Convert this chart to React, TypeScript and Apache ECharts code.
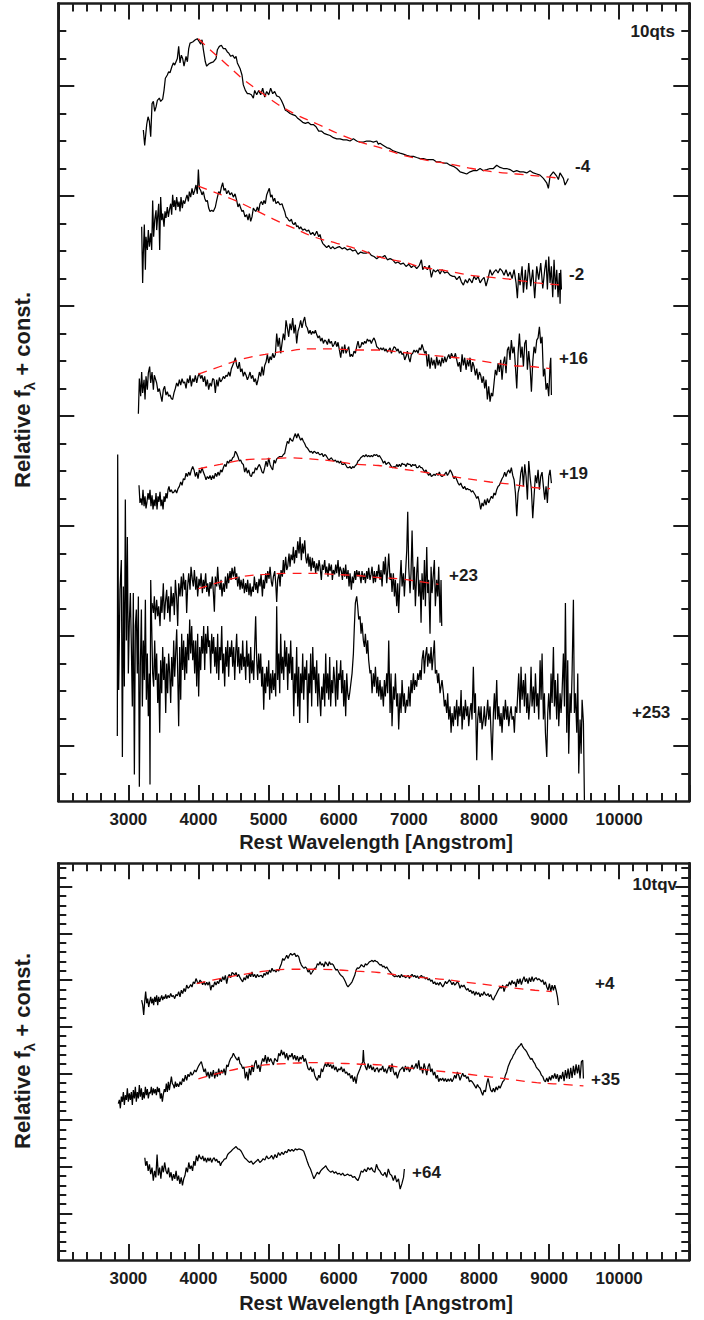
import React, { useEffect, useRef } from "react";
import * as echarts from "echarts";

type Pt = [number, number];

// ---------- SN 2010qts (upper panel), relative flux + offset ----------
const specM4: Pt[] = [
  [3213, 61.0], [3232, 59.6], [3261, 61.5], [3280, 62.2], [3299, 61.8], [3318, 60.4], [3337, 63.4], [3356, 63.6],
  [3375, 62.7], [3394, 63.1], [3413, 63.7], [3441, 63.9], [3460, 63.6], [3489, 63.8], [3508, 64.6], [3527, 65.7],
  [3555, 66.0], [3574, 66.3], [3593, 66.2], [3622, 66.8], [3641, 67.1], [3660, 66.9], [3679, 67.2], [3698, 67.5],
  [3717, 68.6], [3736, 67.1], [3755, 67.8], [3774, 67.5], [3793, 66.8], [3822, 67.7], [3841, 67.2], [3860, 68.4],
  [3879, 68.9], [3917, 69.0], [3955, 69.2], [3983, 69.3], [4012, 69.0], [4031, 68.8], [4050, 69.2], [4069, 68.3],
  [4097, 67.2], [4116, 66.8], [4145, 67.0], [4173, 67.1], [4211, 67.2], [4250, 67.5], [4269, 68.3], [4297, 68.6],
  [4326, 68.7], [4354, 68.4], [4383, 68.4], [4411, 68.1], [4430, 68.0], [4459, 67.7], [4487, 67.8], [4516, 67.5],
  [4535, 67.7], [4554, 67.1], [4592, 66.6], [4620, 66.0], [4639, 65.1], [4668, 64.6], [4697, 64.3], [4725, 64.3],
  [4754, 64.2], [4782, 63.9], [4801, 64.6], [4830, 64.2], [4858, 64.6], [4887, 64.2], [4915, 64.8], [4944, 64.0],
  [4972, 64.5], [5001, 64.2], [5029, 64.8], [5058, 64.3], [5086, 64.5], [5115, 64.1], [5153, 64.0], [5181, 63.7],
  [5210, 63.3], [5239, 62.8], [5267, 62.7], [5305, 62.5], [5343, 62.4], [5381, 62.3], [5410, 62.1], [5448, 61.9],
  [5486, 61.7], [5524, 61.6], [5562, 61.7], [5600, 61.5], [5638, 61.5], [5676, 61.3], [5714, 60.9], [5752, 60.9],
  [5790, 60.7], [5828, 60.6], [5876, 60.5], [5923, 60.3], [5971, 60.2], [6018, 60.2], [6066, 60.1], [6114, 60.1],
  [6161, 60.0], [6209, 60.2], [6256, 60.0], [6304, 59.9], [6351, 59.9], [6399, 60.0], [6446, 60.0], [6494, 59.9],
  [6542, 60.0], [6565, 59.7], [6589, 59.8], [6637, 59.6], [6684, 59.4], [6732, 59.3], [6779, 59.1], [6827, 59.0],
  [6874, 58.9], [6922, 58.8], [6969, 58.7], [7017, 58.6], [7065, 58.6], [7112, 58.5], [7160, 58.4], [7207, 58.4],
  [7255, 58.3], [7302, 58.3], [7350, 58.3], [7397, 58.1], [7445, 58.1], [7493, 58.0], [7540, 58.0], [7588, 57.8],
  [7635, 57.7], [7683, 57.5], [7730, 57.2], [7778, 57.1], [7825, 57.0], [7873, 57.2], [7920, 57.3], [7968, 57.3],
  [8016, 57.5], [8063, 57.3], [8111, 57.4], [8158, 57.5], [8206, 57.5], [8253, 57.8], [8301, 57.6], [8348, 57.5],
  [8396, 57.5], [8443, 57.4], [8491, 57.2], [8539, 57.3], [8586, 57.2], [8634, 57.2], [8681, 57.1], [8729, 57.3],
  [8776, 57.1], [8824, 57.0], [8871, 56.9], [8919, 56.6], [8966, 56.2], [8990, 55.7], [9014, 56.8], [9061, 57.2],
  [9109, 56.8], [9133, 56.5], [9156, 57.1], [9204, 56.6], [9228, 56.0], [9252, 56.3], [9275, 56.6],
];
const fitM4: Pt[] = [
  [3998, 69.3], [4164, 68.3], [4378, 67.1], [4639, 65.6], [4877, 64.5], [5139, 63.3], [5424, 62.3], [5710, 61.5],
  [6018, 60.6], [6304, 59.9], [6637, 59.3], [6922, 58.7], [7302, 58.2], [7588, 57.9], [7897, 57.5], [8206, 57.2],
  [8539, 57.0], [8871, 56.8], [9181, 56.6],
];

const specM2: Pt[] = [
  [3189, 52.2], [3203, 47.1], [3213, 49.8], [3227, 52.4], [3242, 48.3], [3251, 51.3], [3270, 50.1], [3284, 51.9],
  [3299, 50.4], [3318, 51.6], [3332, 50.1], [3346, 54.6], [3360, 51.3], [3375, 52.8], [3394, 53.7], [3403, 51.9],
  [3417, 53.1], [3432, 54.3], [3446, 50.1], [3460, 54.9], [3475, 52.8], [3489, 53.4], [3508, 52.2], [3522, 53.6],
  [3536, 53.0], [3555, 54.0], [3570, 53.1], [3584, 53.7], [3603, 54.3], [3617, 53.3], [3631, 55.1], [3646, 54.0],
  [3660, 54.6], [3674, 53.7], [3688, 54.9], [3707, 54.0], [3722, 54.5], [3736, 53.6], [3750, 54.9], [3769, 53.9],
  [3784, 54.6], [3803, 54.3], [3822, 54.8], [3836, 55.1], [3855, 54.5], [3869, 55.4], [3888, 54.9], [3907, 55.7],
  [3926, 55.1], [3945, 55.5], [3964, 56.0], [3983, 55.2], [3998, 57.4], [4012, 55.7], [4031, 55.5], [4050, 55.1],
  [4069, 55.4], [4088, 54.8], [4107, 54.5], [4126, 54.6], [4145, 53.9], [4164, 53.6], [4188, 53.7], [4211, 53.6],
  [4240, 54.0], [4259, 54.6], [4288, 55.4], [4307, 55.2], [4326, 55.8], [4345, 56.2], [4364, 55.5], [4383, 55.7],
  [4402, 55.2], [4426, 55.5], [4449, 55.1], [4473, 55.3], [4497, 54.9], [4521, 55.2], [4544, 54.6], [4563, 54.0],
  [4582, 54.3], [4601, 53.9], [4620, 53.6], [4639, 53.7], [4663, 53.1], [4687, 53.3], [4706, 52.8], [4725, 53.4],
  [4744, 52.7], [4763, 53.1], [4782, 53.9], [4801, 53.7], [4820, 53.6], [4839, 54.0], [4858, 53.6], [4877, 54.3],
  [4896, 54.5], [4915, 54.2], [4934, 54.6], [4953, 54.3], [4972, 55.1], [4991, 55.4], [5010, 55.7], [5029, 54.9],
  [5048, 55.1], [5067, 54.5], [5086, 54.8], [5105, 54.3], [5134, 54.5], [5163, 54.2], [5191, 54.3], [5210, 53.9],
  [5229, 53.6], [5248, 53.1], [5267, 53.0], [5286, 52.8], [5305, 52.7], [5324, 52.9], [5343, 52.5], [5362, 52.4],
  [5381, 52.6], [5400, 52.2], [5419, 52.3], [5438, 52.0], [5457, 52.2], [5486, 51.9], [5514, 52.0], [5543, 51.8],
  [5571, 51.9], [5600, 51.5], [5629, 51.7], [5657, 51.4], [5686, 51.8], [5714, 51.3], [5733, 51.5], [5752, 51.0],
  [5771, 50.7], [5800, 50.5], [5828, 50.3], [5857, 50.5], [5885, 50.2], [5914, 50.4], [5942, 50.2], [5971, 50.3],
  [6009, 50.4], [6047, 50.2], [6085, 50.3], [6123, 50.1], [6161, 50.2], [6199, 50.0], [6237, 50.1], [6275, 49.7],
  [6313, 49.9], [6351, 49.8], [6389, 49.8], [6427, 49.9], [6465, 49.6], [6503, 49.5], [6542, 49.3], [6580, 49.5],
  [6618, 49.4], [6656, 49.6], [6694, 49.2], [6732, 49.3], [6770, 49.2], [6808, 48.9], [6846, 49.0], [6884, 48.8],
  [6922, 48.9], [6960, 48.6], [6998, 48.8], [7036, 48.5], [7074, 48.7], [7112, 48.4], [7150, 48.7], [7179, 49.2],
  [7198, 48.3], [7226, 48.6], [7264, 48.3], [7293, 48.7], [7321, 47.6], [7350, 48.3], [7378, 48.1], [7416, 48.3],
  [7445, 47.9], [7473, 48.3], [7511, 48.0], [7549, 48.1], [7588, 47.8], [7626, 47.7], [7654, 47.7], [7683, 47.4],
  [7721, 47.7], [7749, 47.2], [7778, 46.9], [7806, 47.4], [7835, 47.1], [7863, 47.5], [7901, 47.1], [7930, 47.7],
  [7958, 47.4], [7987, 47.7], [8016, 47.1], [8044, 47.4], [8073, 47.6], [8101, 46.8], [8130, 47.5], [8158, 48.3],
  [8187, 47.8], [8215, 48.1], [8244, 48.3], [8272, 48.0], [8301, 48.4], [8329, 48.2], [8358, 47.8], [8386, 48.3],
  [8415, 47.7], [8443, 48.1], [8472, 47.5], [8501, 48.3], [8529, 47.1], [8548, 45.7], [8567, 48.0], [8586, 46.9],
  [8615, 48.6], [8634, 46.2], [8662, 48.3], [8681, 46.5], [8710, 48.9], [8738, 46.8], [8767, 48.3], [8795, 45.7],
  [8824, 48.6], [8852, 47.4], [8881, 48.9], [8910, 46.6], [8938, 48.3], [8957, 49.2], [8976, 46.5], [8995, 49.5],
  [9014, 47.1], [9033, 48.6], [9052, 45.8], [9071, 49.2], [9090, 46.5], [9109, 48.3], [9128, 45.8], [9147, 48.0],
  [9157, 45.2], [9166, 48.3], [9176, 46.5],
];
const fitM2: Pt[] = [
  [3998, 55.9], [4164, 55.5], [4521, 54.6], [4782, 53.8], [5067, 52.9], [5352, 52.1], [5638, 51.3], [5971, 50.7],
  [6304, 50.1], [6613, 49.4], [6922, 49.0], [7207, 48.5], [7540, 48.2], [7873, 47.8], [8182, 47.6], [8491, 47.4],
  [8824, 47.1], [9181, 46.9],
];

const specP16: Pt[] = [
  [3142, 35.2], [3156, 38.4], [3175, 36.8], [3189, 39.0], [3203, 37.1], [3223, 38.3], [3237, 36.5], [3251, 38.6],
  [3270, 37.4], [3284, 38.9], [3303, 39.5], [3318, 38.0], [3337, 39.0], [3356, 37.4], [3370, 38.7], [3389, 38.3],
  [3403, 38.0], [3422, 37.2], [3441, 37.5], [3460, 36.9], [3479, 36.3], [3498, 37.4], [3517, 37.7], [3536, 36.9],
  [3555, 37.2], [3574, 36.8], [3593, 36.9], [3612, 36.6], [3631, 36.5], [3650, 37.1], [3669, 37.5], [3688, 38.0],
  [3708, 37.7], [3727, 38.3], [3746, 37.8], [3765, 38.4], [3784, 38.0], [3803, 38.1], [3822, 37.5], [3841, 38.4],
  [3860, 38.0], [3879, 38.7], [3898, 37.7], [3917, 38.4], [3936, 38.1], [3955, 38.7], [3974, 38.0], [3993, 38.6],
  [4012, 38.9], [4031, 38.4], [4050, 38.7], [4069, 38.1], [4088, 38.6], [4107, 37.7], [4126, 38.3], [4145, 37.4],
  [4164, 38.0], [4183, 37.7], [4202, 38.4], [4221, 38.3], [4240, 37.1], [4259, 38.3], [4278, 37.7], [4297, 38.5],
  [4316, 38.1], [4335, 38.3], [4354, 38.6], [4373, 38.4], [4392, 38.7], [4411, 38.6], [4430, 39.0], [4449, 38.6],
  [4468, 39.3], [4487, 39.6], [4506, 39.9], [4525, 40.3], [4544, 39.6], [4563, 39.3], [4582, 39.9], [4601, 39.0],
  [4620, 39.3], [4639, 38.6], [4658, 39.0], [4678, 38.7], [4697, 38.3], [4716, 38.6], [4735, 39.0], [4754, 38.4],
  [4773, 38.7], [4792, 38.1], [4811, 38.4], [4830, 37.8], [4849, 38.3], [4868, 39.0], [4887, 38.6], [4906, 39.5],
  [4925, 38.7], [4944, 39.6], [4963, 39.9], [4982, 40.6], [5001, 39.8], [5020, 40.4], [5039, 40.1], [5058, 40.7],
  [5077, 40.3], [5096, 40.6], [5115, 42.5], [5134, 41.3], [5153, 42.1], [5172, 40.7], [5191, 41.6], [5210, 42.5],
  [5229, 41.9], [5248, 43.7], [5267, 43.0], [5286, 42.2], [5305, 43.4], [5324, 42.8], [5343, 43.9], [5362, 42.5],
  [5381, 43.3], [5400, 41.6], [5419, 42.7], [5438, 43.1], [5457, 43.7], [5476, 43.0], [5495, 43.6], [5514, 44.0],
  [5533, 43.2], [5552, 43.0], [5572, 42.5], [5591, 42.8], [5610, 42.4], [5629, 42.7], [5648, 42.5], [5667, 42.8],
  [5686, 42.4], [5705, 42.1], [5724, 42.3], [5743, 41.8], [5762, 42.1], [5781, 41.6], [5800, 41.9], [5819, 41.8],
  [5838, 41.5], [5857, 42.0], [5876, 41.6], [5895, 41.8], [5914, 41.3], [5933, 41.5], [5952, 41.8], [5971, 41.3],
  [5990, 41.7], [6009, 41.0], [6028, 40.3], [6047, 41.3], [6066, 40.7], [6085, 41.5], [6104, 40.7], [6123, 41.0],
  [6142, 41.3], [6161, 40.4], [6180, 40.6], [6199, 40.4], [6218, 40.9], [6237, 40.7], [6256, 41.3], [6275, 41.8],
  [6294, 41.2], [6313, 41.3], [6332, 41.7], [6351, 41.5], [6370, 41.8], [6389, 41.6], [6408, 42.0], [6427, 41.8],
  [6446, 41.9], [6465, 41.6], [6484, 41.9], [6503, 42.1], [6522, 41.8], [6542, 41.3], [6561, 41.2], [6580, 41.0],
  [6599, 41.2], [6618, 41.0], [6637, 41.2], [6656, 40.9], [6675, 41.1], [6694, 40.8], [6713, 41.0], [6732, 41.2],
  [6751, 40.7], [6770, 41.0], [6789, 41.3], [6808, 41.2], [6827, 40.9], [6846, 41.1], [6865, 40.7], [6884, 40.9],
  [6903, 40.6], [6922, 40.7], [6941, 40.1], [6960, 40.4], [6979, 40.9], [6998, 40.3], [7017, 39.9], [7036, 40.6],
  [7055, 40.7], [7074, 41.0], [7093, 40.8], [7112, 41.0], [7131, 40.7], [7150, 41.2], [7169, 41.0], [7188, 41.5],
  [7207, 41.1], [7226, 40.7], [7245, 40.9], [7264, 39.5], [7283, 40.6], [7302, 39.3], [7321, 40.3], [7340, 39.6],
  [7359, 40.1], [7378, 39.3], [7397, 40.4], [7416, 39.6], [7435, 40.1], [7454, 39.5], [7473, 40.3], [7493, 39.8],
  [7512, 40.4], [7531, 39.9], [7550, 40.3], [7569, 40.6], [7588, 40.2], [7607, 40.7], [7626, 40.4], [7645, 40.3],
  [7664, 40.7], [7683, 40.1], [7702, 39.5], [7721, 39.9], [7740, 39.0], [7759, 40.6], [7778, 39.6], [7797, 40.3],
  [7816, 39.2], [7835, 40.1], [7854, 39.5], [7873, 40.3], [7892, 39.0], [7911, 39.9], [7930, 39.5], [7949, 38.7],
  [7968, 39.3], [7987, 38.3], [8006, 39.0], [8025, 38.7], [8044, 38.0], [8063, 38.6], [8082, 37.5], [8101, 38.3],
  [8120, 36.5], [8139, 37.7], [8158, 36.3], [8177, 37.1], [8196, 36.8], [8215, 38.0], [8234, 39.2], [8253, 38.7],
  [8272, 39.8], [8291, 39.0], [8310, 40.1], [8329, 38.3], [8348, 39.8], [8367, 40.4], [8386, 38.9], [8405, 41.0],
  [8424, 41.3], [8443, 40.1], [8462, 41.9], [8482, 40.7], [8501, 41.3], [8520, 39.5], [8539, 37.5], [8558, 40.7],
  [8577, 42.5], [8596, 40.3], [8615, 41.3], [8634, 39.5], [8653, 41.6], [8672, 41.9], [8691, 39.2], [8710, 40.9],
  [8729, 39.5], [8748, 37.2], [8767, 39.9], [8786, 41.3], [8805, 40.7], [8824, 41.9], [8843, 42.1], [8862, 43.1],
  [8881, 41.6], [8900, 42.2], [8919, 38.6], [8938, 39.3], [8957, 37.4], [8976, 38.0], [8995, 36.8], [9014, 39.6],
  [9024, 40.3], [9033, 36.9],
];
const fitP16: Pt[] = [
  [3998, 38.8], [4307, 39.5], [4639, 40.2], [4949, 40.6], [5258, 40.9], [5591, 41.1], [5923, 41.1], [6233, 41.0],
  [6542, 41.0], [6874, 40.8], [7184, 40.6], [7516, 40.4], [7825, 40.2], [8135, 39.9], [8443, 39.6], [8729, 39.5],
  [9014, 39.3],
];

const specP19: Pt[] = [
  [3151, 28.7], [3165, 27.1], [3180, 27.5], [3194, 26.9], [3208, 28.3], [3223, 26.8], [3237, 27.7], [3251, 26.6],
  [3265, 27.2], [3280, 28.0], [3294, 27.4], [3308, 28.3], [3322, 26.8], [3337, 27.8], [3351, 26.5], [3365, 27.4],
  [3379, 26.8], [3394, 28.0], [3408, 26.5], [3422, 27.7], [3436, 27.2], [3451, 28.1], [3465, 26.8], [3479, 27.4],
  [3494, 26.5], [3508, 27.7], [3522, 27.2], [3536, 28.0], [3551, 27.5], [3565, 28.3], [3579, 28.6], [3593, 28.1],
  [3612, 28.3], [3631, 28.0], [3650, 28.1], [3669, 28.3], [3688, 28.0], [3708, 28.4], [3727, 28.6], [3746, 29.0],
  [3765, 28.7], [3784, 29.3], [3803, 29.2], [3822, 29.8], [3841, 29.5], [3860, 29.9], [3879, 29.6], [3898, 30.1],
  [3917, 30.4], [3936, 30.1], [3955, 29.5], [3974, 29.9], [3993, 29.3], [4012, 30.1], [4031, 29.8], [4050, 30.3],
  [4069, 29.9], [4088, 29.6], [4107, 29.2], [4126, 29.5], [4145, 29.3], [4164, 29.6], [4183, 29.2], [4202, 29.6],
  [4221, 29.3], [4240, 29.8], [4259, 29.5], [4278, 29.9], [4297, 29.6], [4316, 30.1], [4335, 29.9], [4354, 30.3],
  [4373, 30.6], [4392, 30.4], [4411, 30.9], [4430, 30.7], [4449, 31.0], [4468, 30.9], [4487, 31.2], [4506, 31.3],
  [4525, 31.8], [4544, 31.6], [4563, 31.3], [4582, 30.9], [4601, 31.0], [4620, 30.7], [4639, 30.6], [4658, 29.9],
  [4678, 30.3], [4697, 29.8], [4716, 30.1], [4735, 29.6], [4754, 29.5], [4773, 29.9], [4792, 29.8], [4811, 30.3],
  [4830, 30.1], [4849, 30.4], [4868, 30.6], [4887, 30.3], [4906, 29.9], [4925, 29.8], [4944, 30.3], [4963, 30.9],
  [4982, 30.4], [5001, 31.2], [5020, 30.6], [5039, 30.3], [5058, 30.1], [5077, 31.0], [5096, 30.7], [5115, 31.1],
  [5134, 31.2], [5153, 31.3], [5172, 31.3], [5191, 31.3], [5210, 31.5], [5229, 31.6], [5248, 32.2], [5267, 32.7],
  [5286, 32.5], [5305, 33.0], [5324, 32.8], [5343, 32.7], [5362, 33.1], [5381, 33.4], [5400, 33.0], [5419, 33.4],
  [5438, 33.1], [5457, 32.8], [5476, 33.0], [5495, 32.7], [5514, 32.5], [5533, 32.2], [5552, 32.1], [5572, 31.9],
  [5591, 31.7], [5610, 31.8], [5629, 31.6], [5648, 31.8], [5667, 31.7], [5686, 31.6], [5705, 31.7], [5724, 31.5],
  [5743, 31.5], [5762, 31.6], [5781, 31.3], [5800, 31.5], [5819, 31.4], [5838, 31.2], [5857, 31.0], [5876, 31.1],
  [5895, 31.2], [5914, 31.0], [5933, 30.9], [5952, 31.0], [5971, 30.8], [5990, 30.9], [6009, 30.7], [6028, 30.9],
  [6047, 30.6], [6066, 30.6], [6085, 30.7], [6104, 30.5], [6123, 30.3], [6142, 30.3], [6161, 30.4], [6180, 30.2],
  [6199, 30.4], [6218, 30.3], [6237, 30.5], [6256, 30.6], [6275, 30.9], [6294, 31.0], [6313, 31.2], [6332, 31.3],
  [6351, 31.4], [6370, 31.3], [6389, 31.5], [6408, 31.3], [6427, 31.4], [6446, 31.3], [6465, 31.4], [6484, 31.3],
  [6503, 31.5], [6522, 31.4], [6542, 31.5], [6561, 31.3], [6580, 31.4], [6599, 31.2], [6618, 31.0], [6637, 30.7],
  [6656, 30.9], [6675, 30.6], [6694, 30.7], [6713, 30.8], [6732, 30.6], [6751, 30.4], [6770, 30.3], [6789, 30.4],
  [6808, 30.3], [6827, 30.6], [6846, 30.4], [6865, 30.6], [6884, 30.4], [6903, 30.7], [6922, 30.6], [6941, 30.6],
  [6960, 30.4], [6979, 30.7], [6998, 30.6], [7017, 30.6], [7036, 30.4], [7055, 30.6], [7074, 30.5], [7093, 30.6],
  [7112, 30.3], [7131, 30.3], [7150, 30.5], [7169, 30.3], [7188, 30.3], [7207, 30.1], [7226, 29.9], [7245, 30.1],
  [7264, 29.8], [7283, 29.6], [7302, 29.8], [7321, 29.5], [7340, 29.6], [7359, 29.7], [7378, 29.6], [7397, 29.8],
  [7416, 29.6], [7435, 29.9], [7454, 29.6], [7473, 29.5], [7493, 29.6], [7512, 29.7], [7531, 29.9], [7550, 29.6],
  [7569, 29.8], [7588, 30.1], [7607, 29.9], [7626, 29.6], [7645, 29.3], [7664, 29.5], [7683, 29.2], [7702, 28.9],
  [7721, 28.7], [7740, 28.9], [7759, 28.6], [7778, 28.4], [7797, 28.6], [7816, 28.3], [7835, 28.4], [7854, 28.3],
  [7873, 28.3], [7892, 28.1], [7911, 28.2], [7930, 28.0], [7949, 27.8], [7968, 27.5], [7987, 27.7], [8006, 27.2],
  [8025, 26.5], [8044, 27.1], [8063, 26.8], [8082, 27.4], [8101, 26.9], [8120, 27.5], [8139, 27.1], [8158, 27.4],
  [8177, 27.7], [8196, 27.5], [8215, 28.0], [8234, 27.8], [8253, 28.3], [8272, 28.6], [8291, 28.7], [8310, 29.0],
  [8329, 29.3], [8348, 29.5], [8367, 29.9], [8386, 29.5], [8405, 29.9], [8424, 30.1], [8443, 29.8], [8462, 30.3],
  [8482, 29.6], [8501, 29.2], [8520, 28.0], [8539, 25.9], [8558, 28.0], [8577, 28.6], [8596, 29.8], [8615, 30.4],
  [8634, 28.6], [8653, 30.6], [8672, 29.5], [8691, 27.4], [8710, 30.9], [8729, 29.5], [8748, 28.3], [8767, 25.7],
  [8786, 27.7], [8805, 29.6], [8824, 28.9], [8843, 30.1], [8862, 28.3], [8881, 29.5], [8900, 29.9], [8919, 28.6],
  [8938, 27.4], [8957, 28.6], [8976, 27.1], [8995, 29.5], [9014, 30.1], [9033, 28.9],
];
const fitP19: Pt[] = [
  [3998, 30.2], [4307, 30.6], [4639, 31.0], [4972, 31.1], [5305, 31.2], [5591, 31.1], [5923, 30.9], [6256, 30.6],
  [6565, 30.5], [6874, 30.2], [7207, 29.9], [7516, 29.6], [7825, 29.3], [8158, 29.0], [8467, 28.8], [8776, 28.5],
  [9014, 28.4],
];

const specP23: Pt[] = [
  [3337, 18.0], [3356, 17.1], [3370, 18.6], [3384, 16.5], [3403, 18.3], [3418, 16.8], [3432, 17.7], [3451, 15.9],
  [3465, 18.6], [3479, 17.1], [3498, 19.8], [3513, 16.5], [3527, 18.0], [3546, 19.2], [3560, 17.1], [3574, 18.6],
  [3593, 16.3], [3608, 19.5], [3622, 17.7], [3641, 18.9], [3655, 16.9], [3670, 20.1], [3689, 18.3], [3703, 15.9],
  [3717, 19.8], [3736, 18.6], [3755, 20.4], [3769, 18.6], [3784, 20.7], [3803, 19.2], [3817, 20.1], [3831, 17.1],
  [3845, 19.5], [3860, 20.7], [3879, 19.2], [3893, 21.3], [3912, 20.1], [3926, 19.5], [3941, 21.0], [3960, 19.2],
  [3974, 20.4], [3988, 18.6], [4007, 20.2], [4022, 19.5], [4036, 20.7], [4055, 18.9], [4069, 20.1], [4083, 19.3],
  [4102, 20.7], [4117, 19.0], [4131, 19.8], [4150, 18.6], [4164, 19.9], [4178, 19.3], [4197, 20.4], [4212, 18.9],
  [4226, 17.2], [4240, 20.4], [4259, 19.5], [4273, 21.3], [4288, 19.8], [4307, 19.2], [4321, 20.1], [4335, 18.6],
  [4354, 19.8], [4369, 19.0], [4383, 20.4], [4402, 19.3], [4416, 20.7], [4430, 19.8], [4449, 20.9], [4464, 20.1],
  [4478, 21.2], [4497, 20.4], [4516, 21.3], [4530, 20.1], [4544, 20.7], [4559, 19.5], [4578, 20.4], [4592, 19.2],
  [4606, 20.1], [4625, 19.3], [4640, 20.2], [4654, 18.9], [4673, 19.8], [4687, 19.0], [4701, 20.1], [4720, 18.7],
  [4735, 19.8], [4749, 18.6], [4768, 19.5], [4782, 19.0], [4796, 20.4], [4815, 19.2], [4830, 19.9], [4844, 18.9],
  [4863, 20.2], [4877, 19.5], [4892, 20.6], [4911, 18.6], [4925, 20.1], [4939, 19.3], [4958, 20.7], [4972, 19.8],
  [4987, 20.9], [5006, 20.2], [5020, 21.3], [5039, 19.9], [5053, 19.5], [5068, 20.4], [5087, 20.9], [5101, 19.8],
  [5115, 18.1], [5129, 20.1], [5148, 20.7], [5163, 19.5], [5177, 21.0], [5196, 20.4], [5210, 21.9], [5224, 20.7],
  [5243, 22.2], [5258, 21.0], [5272, 21.3], [5291, 22.5], [5305, 21.3], [5320, 22.4], [5339, 21.9], [5353, 23.1],
  [5367, 21.6], [5386, 22.8], [5400, 22.1], [5415, 23.6], [5434, 22.5], [5448, 24.0], [5467, 21.9], [5481, 23.4],
  [5496, 22.5], [5515, 23.7], [5529, 22.2], [5543, 21.6], [5562, 22.5], [5576, 21.3], [5591, 22.2], [5605, 20.9],
  [5624, 22.1], [5638, 21.2], [5652, 21.8], [5671, 20.7], [5686, 21.6], [5705, 20.9], [5719, 21.9], [5733, 21.3],
  [5752, 20.1], [5766, 21.5], [5781, 21.0], [5800, 21.9], [5814, 20.7], [5828, 21.3], [5847, 20.4], [5862, 21.6],
  [5876, 20.9], [5895, 21.5], [5909, 20.1], [5923, 21.0], [5942, 20.6], [5957, 21.5], [5971, 20.7], [5990, 21.9],
  [6004, 20.4], [6019, 21.3], [6038, 20.9], [6052, 20.1], [6066, 21.2], [6085, 20.4], [6099, 21.5], [6114, 20.2],
  [6133, 21.0], [6147, 19.5], [6161, 20.7], [6180, 19.2], [6194, 20.4], [6209, 19.8], [6228, 20.9], [6242, 20.1],
  [6256, 21.0], [6275, 20.4], [6290, 20.9], [6304, 20.4], [6318, 19.8], [6332, 20.9], [6351, 20.1], [6366, 20.7],
  [6380, 19.8], [6399, 20.9], [6413, 20.2], [6427, 21.2], [6446, 20.1], [6461, 20.6], [6475, 21.3], [6494, 19.8],
  [6508, 20.9], [6523, 19.9], [6542, 20.9], [6556, 20.4], [6570, 21.5], [6589, 20.1], [6603, 21.0], [6618, 19.5],
  [6637, 21.8], [6651, 20.6], [6665, 22.2], [6684, 19.8], [6698, 20.9], [6713, 22.5], [6732, 20.1], [6746, 20.7],
  [6760, 19.0], [6779, 20.7], [6794, 18.6], [6808, 20.1], [6827, 17.7], [6841, 19.8], [6855, 17.1], [6874, 20.1],
  [6889, 21.9], [6903, 19.5], [6922, 20.7], [6936, 18.6], [6950, 20.4], [6970, 22.8], [6984, 26.3], [6998, 21.3],
  [7017, 18.9], [7031, 20.7], [7046, 24.6], [7065, 19.2], [7079, 21.3], [7093, 17.7], [7112, 20.7], [7126, 22.2],
  [7141, 18.6], [7160, 20.1], [7174, 16.2], [7188, 20.7], [7207, 18.3], [7222, 21.9], [7236, 17.7], [7255, 23.1],
  [7269, 18.9], [7283, 20.1], [7302, 15.2], [7317, 21.3], [7331, 18.9], [7350, 20.7], [7364, 21.9], [7378, 17.7],
  [7397, 20.1], [7412, 18.6], [7426, 21.3], [7445, 16.2], [7459, 20.1], [7469, 15.9],
];
const fitP23: Pt[] = [
  [3998, 19.3], [4307, 19.9], [4616, 20.4], [4949, 20.6], [5282, 20.7], [5591, 20.7], [5923, 20.6], [6256, 20.5],
  [6565, 20.3], [6874, 20.2], [7207, 19.9], [7421, 19.7],
];

const specP253: Pt[] = [
  [2842, 5.9], [2847, 31.5], [2861, 10.1], [2880, 19.2], [2899, 21.9], [2914, 4.0], [2928, 19.5], [2942, 10.4],
  [2956, 27.4], [2971, 14.6], [2985, 24.0], [2999, 11.6], [3013, 16.2], [3028, 18.9], [3042, 14.0], [3056, 8.6],
  [3070, 18.9], [3085, 2.4], [3099, 15.9], [3113, 17.4], [3127, 11.6], [3142, 18.6], [3156, 1.3], [3170, 12.2],
  [3185, 17.4], [3199, 8.6], [3213, 14.6], [3227, 11.0], [3242, 18.3], [3256, 9.2], [3270, 13.4], [3284, 7.7],
  [3299, 11.6], [3308, 1.5], [3318, 20.1], [3332, 15.9], [3346, 11.6], [3360, 10.4], [3375, 14.6], [3389, 11.0],
  [3403, 13.4], [3418, 8.9], [3432, 11.6], [3446, 6.2], [3460, 12.8], [3475, 9.8], [3489, 14.0], [3503, 11.0],
  [3517, 13.1], [3532, 8.0], [3546, 12.5], [3560, 9.8], [3574, 13.4], [3589, 11.6], [3603, 8.9], [3617, 13.1],
  [3631, 10.4], [3646, 14.6], [3660, 11.3], [3674, 13.4], [3689, 15.6], [3703, 11.6], [3717, 6.8], [3731, 14.0],
  [3746, 9.2], [3760, 15.2], [3774, 11.9], [3788, 14.6], [3803, 11.0], [3817, 14.0], [3831, 11.6], [3845, 15.2],
  [3860, 12.8], [3874, 16.5], [3888, 13.4], [3903, 15.9], [3917, 12.8], [3931, 14.6], [3945, 11.6], [3960, 14.6],
  [3974, 10.4], [3988, 15.2], [4002, 9.5], [4017, 14.0], [4031, 11.9], [4045, 15.0], [4060, 13.4], [4074, 15.9],
  [4088, 11.9], [4102, 15.2], [4117, 13.4], [4131, 15.9], [4145, 14.0], [4159, 14.6], [4174, 11.6], [4188, 15.2],
  [4202, 13.4], [4216, 14.9], [4231, 12.2], [4245, 14.0], [4259, 11.6], [4273, 15.2], [4288, 11.0], [4302, 14.0],
  [4316, 12.8], [4331, 15.9], [4345, 11.6], [4359, 13.4], [4373, 10.4], [4388, 14.0], [4402, 12.2], [4416, 14.6],
  [4430, 11.3], [4445, 14.0], [4459, 13.1], [4473, 14.6], [4487, 12.2], [4502, 14.0], [4516, 11.0], [4530, 13.4],
  [4544, 15.2], [4559, 12.2], [4573, 14.0], [4587, 11.6], [4602, 13.4], [4616, 11.9], [4630, 14.6], [4644, 12.2],
  [4659, 13.1], [4673, 11.0], [4687, 14.6], [4701, 12.2], [4716, 13.4], [4730, 10.7], [4744, 14.0], [4758, 11.6],
  [4773, 12.8], [4787, 11.0], [4801, 14.0], [4815, 16.8], [4830, 12.8], [4844, 11.0], [4858, 13.4], [4873, 11.6],
  [4887, 13.4], [4901, 10.4], [4915, 12.2], [4930, 8.3], [4944, 11.6], [4958, 9.8], [4972, 12.2], [4987, 10.4],
  [5001, 12.8], [5015, 9.2], [5029, 11.6], [5044, 9.8], [5058, 11.9], [5072, 10.1], [5087, 11.6], [5101, 9.5],
  [5115, 17.7], [5129, 11.0], [5144, 13.4], [5158, 9.8], [5172, 15.2], [5186, 11.6], [5201, 13.1], [5215, 11.0],
  [5229, 14.6], [5243, 12.2], [5258, 14.0], [5272, 10.1], [5286, 13.4], [5300, 11.6], [5315, 14.6], [5329, 11.0],
  [5343, 13.1], [5358, 7.7], [5372, 11.6], [5386, 9.8], [5400, 14.0], [5415, 8.6], [5429, 12.2], [5443, 7.1],
  [5457, 11.6], [5472, 9.8], [5486, 13.4], [5500, 9.2], [5515, 12.2], [5529, 11.0], [5543, 12.8], [5557, 7.1],
  [5572, 11.6], [5586, 9.8], [5600, 13.4], [5614, 8.6], [5629, 14.0], [5643, 11.0], [5657, 12.2], [5671, 9.8],
  [5686, 12.8], [5700, 8.6], [5714, 11.6], [5728, 9.5], [5743, 7.7], [5757, 10.4], [5771, 9.2], [5786, 11.6],
  [5800, 8.6], [5814, 13.4], [5828, 9.8], [5843, 11.6], [5857, 9.2], [5871, 13.1], [5885, 8.6], [5900, 11.0],
  [5914, 9.8], [5928, 12.2], [5942, 11.0], [5957, 8.6], [5971, 12.8], [5985, 9.2], [5999, 11.6], [6014, 11.0],
  [6028, 12.8], [6042, 9.8], [6057, 11.9], [6071, 8.6], [6085, 11.0], [6099, 7.7], [6114, 11.6], [6128, 9.8],
  [6142, 9.2], [6156, 9.8], [6190, 11.6], [6209, 13.4], [6223, 15.9], [6237, 18.0], [6256, 18.6], [6270, 17.7],
  [6285, 16.5], [6304, 16.8], [6318, 15.2], [6332, 16.2], [6351, 14.6], [6366, 14.0], [6380, 15.2], [6399, 13.4],
  [6413, 14.6], [6427, 12.8], [6446, 11.6], [6461, 11.9], [6475, 9.8], [6494, 11.6], [6508, 10.4], [6523, 12.2],
  [6542, 9.8], [6556, 11.3], [6570, 9.5], [6589, 11.0], [6603, 9.2], [6618, 10.4], [6637, 8.6], [6651, 11.0],
  [6665, 9.5], [6684, 11.6], [6698, 9.8], [6713, 14.6], [6732, 8.0], [6746, 11.6], [6760, 6.8], [6779, 10.4],
  [6794, 9.2], [6808, 11.6], [6827, 8.6], [6841, 9.8], [6855, 6.5], [6874, 9.8], [6889, 8.0], [6903, 11.0],
  [6922, 8.6], [6936, 9.8], [6950, 8.0], [6970, 9.2], [6984, 8.6], [6998, 10.4], [7017, 8.6], [7031, 11.0],
  [7046, 9.8], [7065, 11.6], [7079, 10.1], [7093, 11.0], [7112, 10.4], [7126, 11.6], [7141, 11.0], [7160, 11.9],
  [7174, 11.0], [7188, 12.8], [7207, 13.7], [7222, 11.6], [7236, 13.1], [7255, 14.0], [7269, 12.2], [7283, 13.4],
  [7302, 12.5], [7317, 14.0], [7331, 11.9], [7350, 13.4], [7364, 14.6], [7378, 11.6], [7397, 11.9], [7412, 10.7],
  [7426, 11.6], [7445, 9.8], [7459, 10.4], [7473, 11.0], [7493, 9.8], [7507, 8.6], [7521, 9.2], [7540, 8.0],
  [7554, 9.8], [7569, 7.4], [7588, 8.6], [7602, 6.2], [7616, 8.0], [7635, 6.8], [7649, 8.6], [7664, 7.4],
  [7683, 9.2], [7697, 6.8], [7711, 8.6], [7730, 7.7], [7745, 10.1], [7759, 6.5], [7778, 8.6], [7792, 7.4],
  [7806, 9.2], [7825, 7.7], [7840, 8.6], [7854, 6.8], [7873, 8.3], [7887, 8.9], [7901, 7.4], [7920, 12.2],
  [7935, 8.0], [7949, 9.8], [7968, 3.7], [7982, 7.4], [7997, 8.6], [8016, 7.1], [8030, 8.6], [8044, 6.5],
  [8063, 7.4], [8077, 8.6], [8092, 6.8], [8111, 8.0], [8125, 9.2], [8139, 7.4], [8158, 8.6], [8172, 6.2],
  [8187, 3.7], [8206, 8.0], [8220, 9.8], [8234, 7.4], [8253, 11.0], [8268, 7.4], [8282, 8.6], [8301, 6.8],
  [8315, 8.0], [8329, 6.2], [8348, 8.6], [8363, 7.4], [8377, 9.2], [8396, 7.4], [8410, 8.6], [8425, 6.8],
  [8444, 8.0], [8458, 8.6], [8472, 7.4], [8491, 7.7], [8505, 6.2], [8520, 8.6], [8539, 8.0], [8553, 9.8],
  [8567, 11.6], [8586, 8.0], [8600, 12.2], [8615, 9.2], [8634, 11.0], [8648, 8.6], [8662, 11.6], [8681, 8.0],
  [8696, 9.8], [8710, 7.4], [8729, 9.2], [8743, 12.2], [8757, 8.6], [8776, 10.4], [8791, 8.0], [8805, 11.6],
  [8824, 8.6], [8838, 9.8], [8853, 7.4], [8872, 12.8], [8886, 9.2], [8900, 13.4], [8919, 7.4], [8933, 9.8],
  [8948, 6.2], [8967, 4.0], [8981, 8.0], [8995, 9.8], [9014, 7.4], [9028, 11.6], [9043, 8.9], [9062, 14.0],
  [9076, 8.6], [9090, 11.0], [9109, 7.4], [9124, 11.6], [9138, 6.8], [9157, 9.8], [9171, 8.0], [9185, 9.8],
  [9204, 13.4], [9219, 8.6], [9233, 18.0], [9252, 6.2], [9266, 12.8], [9280, 4.3], [9299, 9.8], [9314, 8.0],
  [9328, 11.6], [9347, 18.3], [9361, 8.0], [9376, 9.8], [9395, 6.2], [9409, 11.6], [9423, 2.5], [9442, 7.4],
  [9457, 4.3], [9471, 9.2], [9490, 7.1], [9504, 0.1],
];

// ---------- SN 2010tqv (lower panel) ----------
const specP4: Pt[] = [
  [3189, 55.7], [3204, 54.6], [3218, 52.5], [3232, 55.3], [3246, 57.5], [3261, 55.0], [3275, 56.0], [3289, 54.2],
  [3303, 55.3], [3318, 56.4], [3332, 55.0], [3346, 56.0], [3360, 54.6], [3375, 56.4], [3389, 55.3], [3403, 56.7],
  [3418, 54.6], [3432, 56.4], [3446, 55.3], [3460, 56.0], [3475, 56.7], [3489, 55.7], [3503, 56.4], [3517, 56.0],
  [3532, 56.9], [3546, 56.0], [3565, 56.7], [3584, 56.2], [3603, 57.1], [3622, 56.4], [3641, 56.7], [3660, 56.0],
  [3679, 56.9], [3698, 56.6], [3717, 57.5], [3736, 56.4], [3755, 57.8], [3774, 57.1], [3793, 58.2], [3812, 57.5],
  [3831, 58.9], [3850, 58.2], [3869, 58.5], [3888, 59.0], [3907, 58.5], [3926, 59.6], [3945, 59.2], [3964, 60.3],
  [3983, 59.6], [4002, 59.2], [4022, 60.0], [4040, 59.6], [4059, 59.0], [4078, 59.6], [4097, 58.9], [4117, 59.5],
  [4136, 58.9], [4155, 59.6], [4174, 57.8], [4193, 58.9], [4212, 58.5], [4231, 59.6], [4250, 58.9], [4269, 59.7],
  [4288, 59.2], [4307, 60.3], [4326, 59.6], [4345, 60.7], [4364, 60.0], [4383, 61.0], [4402, 59.2], [4421, 60.7],
  [4440, 61.2], [4459, 60.5], [4478, 61.6], [4497, 61.4], [4516, 61.0], [4535, 61.6], [4554, 60.7], [4573, 61.2],
  [4592, 60.5], [4611, 60.0], [4630, 59.6], [4649, 60.5], [4668, 60.0], [4687, 61.0], [4706, 60.3], [4725, 61.4],
  [4744, 60.7], [4763, 61.7], [4782, 60.7], [4801, 61.2], [4820, 60.5], [4839, 61.2], [4858, 60.7], [4877, 60.9],
  [4896, 61.0], [4915, 60.5], [4934, 61.4], [4953, 61.0], [4972, 61.7], [4991, 61.2], [5010, 62.1], [5029, 61.6],
  [5048, 62.5], [5068, 61.9], [5087, 62.1], [5106, 61.7], [5125, 62.3], [5144, 61.9], [5163, 62.8], [5182, 63.5],
  [5201, 64.6], [5220, 64.2], [5239, 64.7], [5258, 65.3], [5277, 64.6], [5296, 65.3], [5315, 65.7], [5334, 65.3],
  [5353, 65.5], [5372, 65.7], [5391, 65.0], [5410, 65.3], [5429, 65.0], [5448, 63.9], [5467, 63.2], [5486, 62.8],
  [5505, 62.5], [5524, 62.8], [5543, 62.5], [5562, 61.7], [5581, 62.1], [5600, 61.2], [5619, 61.6], [5638, 62.1],
  [5657, 62.5], [5676, 62.6], [5695, 63.5], [5714, 63.2], [5733, 63.9], [5752, 63.2], [5771, 63.5], [5790, 62.8],
  [5809, 63.9], [5828, 63.5], [5847, 63.0], [5866, 63.9], [5885, 63.3], [5904, 63.5], [5923, 63.2], [5942, 62.6],
  [5961, 62.1], [5980, 62.3], [5999, 61.7], [6019, 61.2], [6038, 60.9], [6057, 60.7], [6076, 60.2], [6095, 59.6],
  [6114, 58.9], [6133, 58.5], [6152, 58.9], [6171, 59.2], [6190, 59.6], [6209, 60.3], [6228, 61.0], [6247, 62.1],
  [6266, 62.6], [6285, 62.5], [6304, 62.8], [6323, 63.3], [6342, 63.0], [6361, 62.8], [6380, 63.5], [6399, 63.2],
  [6418, 63.5], [6437, 63.9], [6456, 64.0], [6475, 64.2], [6494, 63.9], [6513, 64.2], [6532, 64.0], [6551, 63.9],
  [6570, 63.5], [6589, 63.2], [6608, 63.3], [6627, 62.8], [6646, 63.0], [6665, 62.5], [6684, 62.8], [6703, 62.3],
  [6722, 61.9], [6741, 61.6], [6760, 61.2], [6779, 60.9], [6798, 60.7], [6817, 60.9], [6836, 60.7], [6855, 61.0],
  [6874, 60.5], [6894, 61.2], [6913, 60.7], [6932, 60.9], [6951, 60.5], [6970, 60.7], [6989, 61.0], [7008, 60.3],
  [7027, 60.9], [7046, 61.2], [7065, 60.7], [7084, 61.0], [7103, 60.5], [7122, 60.9], [7141, 60.3], [7160, 60.7],
  [7179, 61.0], [7198, 60.5], [7217, 60.7], [7236, 60.2], [7255, 60.5], [7274, 60.0], [7293, 60.3], [7312, 59.7],
  [7331, 60.0], [7350, 59.2], [7369, 59.6], [7388, 59.0], [7407, 59.4], [7426, 58.9], [7445, 59.5], [7464, 59.0],
  [7483, 58.5], [7502, 59.0], [7521, 59.7], [7540, 59.2], [7559, 59.6], [7578, 60.0], [7597, 59.6], [7616, 59.0],
  [7635, 59.5], [7654, 58.9], [7673, 59.2], [7692, 59.7], [7711, 59.2], [7730, 58.2], [7749, 58.9], [7768, 58.5],
  [7787, 58.9], [7806, 58.3], [7825, 57.8], [7844, 58.2], [7864, 57.5], [7883, 57.8], [7902, 57.1], [7921, 57.6],
  [7940, 56.7], [7959, 57.5], [7978, 56.9], [7997, 57.3], [8016, 56.4], [8035, 57.1], [8054, 56.7], [8073, 57.5],
  [8092, 56.9], [8111, 56.7], [8130, 57.1], [8149, 56.4], [8168, 56.9], [8187, 56.0], [8206, 55.7], [8225, 56.4],
  [8244, 56.9], [8263, 57.5], [8282, 58.0], [8301, 58.5], [8320, 58.2], [8339, 58.9], [8358, 57.5], [8377, 58.5],
  [8396, 59.0], [8415, 58.7], [8434, 59.6], [8453, 58.9], [8472, 59.9], [8491, 59.2], [8510, 59.6], [8529, 58.5],
  [8548, 60.2], [8567, 59.2], [8586, 60.3], [8605, 59.0], [8624, 60.0], [8643, 60.7], [8662, 59.6], [8681, 60.3],
  [8700, 59.2], [8719, 60.5], [8738, 59.6], [8757, 60.7], [8777, 59.7], [8796, 60.3], [8815, 60.5], [8834, 60.0],
  [8853, 60.3], [8872, 60.0], [8891, 59.6], [8910, 60.0], [8929, 59.0], [8948, 59.6], [8967, 58.5], [8986, 57.8],
  [9005, 59.2], [9024, 57.5], [9043, 58.9], [9062, 57.8], [9081, 58.9], [9100, 57.8], [9119, 56.4], [9133, 54.6],
];
const fitP4: Pt[] = [
  [3974, 59.2], [4307, 60.3], [4640, 61.2], [4949, 61.9], [5282, 62.3], [5591, 62.3], [5923, 62.2], [6256, 61.9],
  [6565, 61.6], [6874, 61.0], [7207, 60.5], [7516, 60.1], [7825, 59.5], [8158, 58.9], [8491, 58.3], [8800, 57.8],
  [9038, 57.5],
];

const specP35: Pt[] = [
  [2856, 33.5], [2871, 34.3], [2885, 32.5], [2899, 35.0], [2914, 33.9], [2928, 36.0], [2942, 33.2], [2956, 35.3],
  [2971, 34.3], [2985, 36.8], [2999, 33.9], [3013, 35.7], [3028, 34.3], [3042, 36.0], [3056, 33.2], [3070, 36.4],
  [3085, 34.6], [3099, 37.1], [3113, 33.9], [3127, 36.0], [3142, 34.6], [3156, 37.5], [3170, 35.0], [3185, 36.8],
  [3199, 34.3], [3213, 36.0], [3227, 34.6], [3242, 37.1], [3256, 35.3], [3270, 36.6], [3284, 34.6], [3299, 36.0],
  [3313, 35.7], [3327, 37.1], [3341, 35.3], [3356, 36.8], [3370, 35.7], [3384, 36.6], [3399, 35.3], [3413, 37.1],
  [3427, 36.0], [3441, 36.8], [3456, 34.6], [3470, 35.7], [3484, 33.9], [3498, 35.5], [3513, 36.6], [3527, 36.0],
  [3541, 37.8], [3555, 36.0], [3570, 38.2], [3584, 36.4], [3598, 37.8], [3613, 39.3], [3627, 37.8], [3641, 37.5],
  [3655, 36.8], [3670, 38.2], [3684, 37.1], [3698, 37.8], [3717, 37.1], [3736, 38.2], [3755, 37.5], [3774, 38.9],
  [3793, 38.2], [3812, 39.6], [3831, 38.5], [3850, 39.8], [3869, 39.3], [3888, 40.3], [3907, 39.6], [3926, 40.0],
  [3945, 40.7], [3964, 40.3], [3983, 41.0], [4002, 41.6], [4022, 42.1], [4040, 42.5], [4059, 41.4], [4078, 40.3],
  [4097, 41.0], [4117, 39.3], [4136, 40.3], [4155, 38.9], [4174, 40.3], [4193, 39.3], [4212, 40.7], [4231, 38.9],
  [4250, 40.3], [4269, 39.3], [4288, 41.0], [4307, 39.6], [4326, 40.7], [4345, 40.0], [4364, 41.0], [4383, 39.6],
  [4402, 41.8], [4421, 41.4], [4440, 42.5], [4459, 43.2], [4478, 43.5], [4497, 44.3], [4516, 43.7], [4535, 43.2],
  [4554, 42.8], [4573, 43.5], [4592, 42.1], [4611, 41.8], [4630, 41.0], [4649, 41.4], [4668, 38.9], [4687, 40.3],
  [4706, 38.5], [4725, 41.0], [4744, 39.6], [4763, 41.8], [4782, 40.3], [4801, 42.1], [4820, 42.8], [4839, 41.0],
  [4858, 41.8], [4877, 40.3], [4896, 42.1], [4915, 43.2], [4934, 42.5], [4953, 43.9], [4972, 42.1], [4991, 43.5],
  [5010, 42.5], [5029, 43.2], [5048, 42.5], [5068, 41.8], [5087, 43.2], [5106, 42.8], [5125, 42.5], [5144, 44.3],
  [5163, 43.7], [5182, 45.0], [5201, 43.9], [5220, 44.6], [5239, 43.2], [5258, 44.3], [5277, 42.8], [5296, 43.9],
  [5315, 43.5], [5334, 44.3], [5353, 43.0], [5372, 43.9], [5391, 42.8], [5410, 43.7], [5429, 42.5], [5448, 43.5],
  [5467, 43.0], [5486, 43.9], [5505, 42.5], [5524, 43.2], [5543, 42.1], [5562, 41.0], [5581, 40.7], [5600, 41.4],
  [5619, 40.3], [5638, 41.0], [5657, 39.6], [5676, 38.9], [5695, 38.5], [5714, 39.6], [5733, 39.0], [5752, 41.0],
  [5771, 40.3], [5790, 41.4], [5809, 42.1], [5828, 41.4], [5847, 42.3], [5866, 41.4], [5885, 41.9], [5904, 41.0],
  [5923, 41.8], [5942, 40.7], [5961, 41.4], [5980, 40.3], [5999, 41.0], [6019, 40.7], [6038, 41.4], [6057, 40.3],
  [6076, 41.0], [6095, 40.0], [6114, 40.3], [6133, 39.6], [6152, 40.0], [6171, 38.9], [6190, 39.6], [6209, 38.2],
  [6228, 39.3], [6247, 37.8], [6266, 39.6], [6285, 40.3], [6304, 41.0], [6323, 41.8], [6342, 42.5], [6351, 45.0],
  [6361, 42.5], [6380, 41.4], [6399, 40.7], [6418, 42.1], [6437, 41.0], [6456, 41.8], [6475, 40.7], [6494, 41.4],
  [6513, 40.3], [6532, 41.0], [6551, 41.2], [6570, 40.2], [6589, 41.0], [6608, 40.7], [6627, 41.6], [6646, 40.3],
  [6665, 41.0], [6684, 40.0], [6703, 41.0], [6722, 41.6], [6741, 40.3], [6760, 42.1], [6779, 40.5], [6798, 39.6],
  [6817, 40.3], [6836, 38.9], [6855, 40.0], [6874, 40.7], [6894, 41.0], [6913, 41.4], [6932, 40.3], [6951, 41.6],
  [6970, 40.7], [6989, 41.4], [7008, 40.3], [7027, 41.0], [7046, 41.8], [7065, 40.9], [7084, 41.3], [7103, 42.1],
  [7122, 41.0], [7141, 42.8], [7160, 40.7], [7179, 41.4], [7198, 40.0], [7217, 42.1], [7236, 41.0], [7255, 39.6],
  [7274, 41.4], [7293, 42.1], [7312, 40.3], [7331, 41.0], [7350, 39.6], [7369, 40.3], [7388, 38.9], [7407, 39.6],
  [7426, 38.2], [7445, 38.9], [7464, 38.5], [7483, 39.0], [7502, 38.3], [7521, 38.9], [7540, 38.2], [7559, 38.8],
  [7578, 38.3], [7597, 38.9], [7616, 38.2], [7635, 38.8], [7654, 39.6], [7673, 38.9], [7692, 40.3], [7711, 39.6],
  [7730, 38.5], [7749, 39.3], [7768, 40.0], [7787, 39.3], [7806, 39.6], [7825, 38.9], [7844, 39.3], [7864, 38.2],
  [7883, 38.5], [7902, 38.2], [7921, 37.8], [7940, 37.3], [7959, 36.8], [7978, 37.6], [7997, 37.1], [8016, 36.8],
  [8035, 36.0], [8054, 35.3], [8073, 36.4], [8092, 36.0], [8111, 37.8], [8130, 38.9], [8149, 37.5], [8168, 36.4],
  [8187, 36.0], [8206, 36.8], [8225, 36.0], [8244, 37.1], [8263, 36.4], [8282, 37.3], [8301, 36.8], [8320, 37.5],
  [8339, 38.2], [8358, 38.5], [8377, 39.6], [8396, 40.3], [8415, 41.4], [8434, 42.1], [8453, 42.8], [8472, 43.2],
  [8491, 43.9], [8510, 44.3], [8529, 45.0], [8548, 45.3], [8567, 45.7], [8586, 46.0], [8605, 46.4], [8624, 45.7],
  [8643, 45.3], [8662, 45.0], [8681, 44.6], [8700, 44.0], [8719, 43.5], [8738, 43.0], [8757, 43.2], [8777, 42.5],
  [8796, 42.1], [8815, 41.4], [8834, 41.0], [8853, 40.7], [8872, 40.3], [8891, 39.6], [8910, 39.3], [8929, 38.5],
  [8948, 38.2], [8967, 39.0], [8986, 38.2], [9005, 39.3], [9024, 38.5], [9043, 39.6], [9062, 38.9], [9081, 40.0],
  [9100, 38.8], [9119, 39.8], [9138, 38.2], [9157, 39.6], [9176, 38.8], [9195, 40.3], [9214, 38.3], [9233, 40.7],
  [9252, 38.9], [9271, 41.0], [9290, 38.8], [9309, 41.2], [9328, 39.0], [9347, 41.6], [9366, 39.6], [9385, 41.9],
  [9404, 40.0], [9423, 41.8], [9442, 38.9], [9461, 42.5], [9480, 42.8], [9490, 38.9],
];
const fitP35: Pt[] = [
  [3998, 38.8], [4283, 40.0], [4640, 41.2], [4949, 41.8], [5258, 42.1], [5591, 42.3], [5923, 42.2], [6256, 42.0],
  [6589, 41.8], [6898, 41.3], [7231, 40.8], [7540, 40.3], [7849, 39.8], [8182, 39.2], [8491, 38.6], [8824, 38.0],
  [9133, 37.7], [9490, 37.3],
];

const specP64: Pt[] = [
  [3234, 21.9], [3246, 20.2], [3264, 21.2], [3282, 19.1], [3300, 20.5], [3318, 18.4], [3337, 19.8], [3355, 17.0],
  [3373, 19.1], [3391, 17.7], [3409, 22.6], [3427, 18.1], [3445, 19.8], [3463, 17.4], [3481, 20.2], [3499, 18.8],
  [3517, 20.9], [3536, 19.1], [3554, 18.4], [3572, 19.8], [3590, 17.7], [3608, 18.8], [3626, 17.0], [3644, 18.4],
  [3662, 17.4], [3680, 19.1], [3698, 17.0], [3716, 18.1], [3734, 16.3], [3753, 17.7], [3771, 16.0], [3789, 17.4],
  [3807, 18.1], [3825, 19.8], [3843, 18.8], [3861, 20.9], [3879, 19.5], [3897, 20.2], [3915, 19.1], [3933, 21.2],
  [3951, 20.2], [3970, 22.3], [3988, 21.2], [4006, 22.6], [4024, 21.9], [4042, 21.6], [4060, 22.3], [4078, 21.2],
  [4096, 21.9], [4114, 20.9], [4132, 21.9], [4150, 21.2], [4169, 21.9], [4187, 20.9], [4205, 21.6], [4223, 21.9],
  [4241, 21.2], [4259, 21.6], [4277, 20.9], [4295, 21.2], [4313, 20.2], [4331, 20.9], [4349, 21.2], [4368, 21.6],
  [4392, 21.7], [4416, 22.6], [4440, 23.0], [4464, 23.3], [4488, 23.7], [4512, 24.0], [4536, 24.3], [4560, 23.8],
  [4585, 23.7], [4609, 23.3], [4633, 22.6], [4657, 21.9], [4681, 21.6], [4705, 21.2], [4729, 20.9], [4753, 21.2],
  [4777, 20.5], [4802, 20.9], [4826, 21.2], [4850, 21.6], [4874, 20.9], [4898, 21.2], [4922, 21.7], [4946, 21.4],
  [4970, 22.3], [4995, 21.7], [5019, 21.9], [5043, 22.4], [5067, 21.6], [5091, 22.6], [5115, 21.9], [5139, 23.0],
  [5163, 22.4], [5187, 23.1], [5212, 22.6], [5236, 23.3], [5260, 23.0], [5284, 23.7], [5308, 23.3], [5332, 23.7],
  [5356, 23.3], [5380, 23.8], [5405, 23.6], [5429, 23.8], [5453, 23.7], [5477, 23.6], [5501, 23.3], [5525, 22.3],
  [5549, 21.2], [5573, 20.2], [5597, 19.5], [5622, 18.4], [5646, 17.4], [5670, 18.1], [5694, 18.8], [5718, 18.4],
  [5742, 19.1], [5766, 19.5], [5790, 19.8], [5815, 20.2], [5839, 19.5], [5863, 19.1], [5887, 18.8], [5911, 19.1],
  [5935, 18.6], [5959, 18.9], [5983, 18.4], [6007, 18.6], [6032, 18.2], [6056, 18.6], [6080, 18.1], [6104, 18.2],
  [6128, 18.4], [6152, 18.1], [6176, 18.2], [6200, 17.7], [6225, 17.9], [6249, 17.4], [6273, 17.0], [6297, 17.9],
  [6321, 19.1], [6345, 18.8], [6369, 19.5], [6393, 18.9], [6417, 19.8], [6442, 19.3], [6466, 19.8], [6490, 19.1],
  [6514, 18.8], [6538, 20.5], [6562, 19.5], [6586, 19.1], [6610, 18.4], [6634, 18.1], [6659, 18.8], [6683, 17.7],
  [6707, 19.5], [6731, 18.4], [6755, 18.1], [6779, 17.0], [6803, 18.1], [6827, 16.7], [6852, 17.4], [6876, 15.2],
  [6900, 16.3], [6924, 17.7], [6936, 19.5],
];

// Axis set-up
const WL_MIN = 2000;
const WL_MAX = 11000;
const TOP_MAX = 72.5; // upper panel flux range (0 .. 72.5)
const BOT_MAX = 85; // lower panel flux range (0 .. 85)

const FONT = "'Liberation Sans', Arial, Helvetica, sans-serif";
const INK = "#1c1c1c";

function tickList(step: number, max: number, keep: (v: number) => boolean): number[] {
  const out: number[] = [];
  for (let i = 1; i * step < max - 1e-6; i++) {
    const v = +(i * step).toFixed(3);
    if (keep(v)) out.push(v);
  }
  return out;
}

const topMajor = tickList(10, TOP_MAX, () => true).map((v) => v - 5).filter((v) => v > 0);
const topMinor = tickList(2.5, TOP_MAX, (v) => Math.abs(((v - 5) % 10 + 10) % 10) > 1e-6);
const botMajor = tickList(10, BOT_MAX, () => true);
const botMinor = tickList(2, BOT_MAX, (v) => Math.abs(v % 10) > 1e-6);

function xAxisDef(gridIndex: number, position: "top" | "bottom") {
  return {
    type: "value",
    gridIndex,
    position,
    min: WL_MIN,
    max: WL_MAX,
    interval: 1000,
    axisLine: { show: true, onZero: false, lineStyle: { color: INK, width: 2.5 } },
    axisTick: { show: true, inside: true, length: 16, lineStyle: { color: INK, width: 2 } },
    minorTick: { show: true, splitNumber: 5, length: 8, lineStyle: { color: INK, width: 2 } },
    axisLabel: {
      show: position === "bottom",
      margin: 10,
      color: INK,
      fontFamily: FONT,
      fontWeight: "bold",
      fontSize: 17,
      formatter: (v: number) => (v === WL_MIN || v === WL_MAX ? "" : String(v)),
    },
    splitLine: { show: false },
    minorSplitLine: { show: false },
  };
}

function yAxisDef(gridIndex: number, position: "left" | "right", max: number, ticks: number[], length: number) {
  return {
    type: "value",
    gridIndex,
    position,
    min: 0,
    max,
    axisLine: { show: true, onZero: false, lineStyle: { color: INK, width: 2.5 } },
    axisTick: { show: true, inside: true, length, customValues: ticks, lineStyle: { color: INK, width: 2 } },
    axisLabel: { show: false },
    splitLine: { show: false },
  };
}

function spectrum(data: Pt[], xAxisIndex: number, yAxisIndex: number) {
  return {
    type: "line",
    xAxisIndex,
    yAxisIndex,
    data,
    symbol: "none",
    showSymbol: false,
    silent: true,
    clip: true,
    z: 2,
    lineStyle: { color: "#000", width: 1.25 },
  };
}

function fitCurve(data: Pt[], xAxisIndex: number, yAxisIndex: number) {
  return {
    type: "line",
    xAxisIndex,
    yAxisIndex,
    data,
    symbol: "none",
    showSymbol: false,
    smooth: 0.4,
    silent: true,
    z: 3,
    lineStyle: { color: "#ff1a1a", width: 1.3, type: [9, 7] },
  };
}

function label(text: string, x: number, y: number, align: "left" | "right" | "center" = "left", size = 17) {
  return {
    type: "text",
    x,
    y,
    silent: true,
    style: {
      text,
      fill: INK,
      font: `bold ${size}px ${FONT}`,
      align,
      verticalAlign: "middle",
    },
  };
}

function yTitle(y: number) {
  return {
    type: "text",
    x: 22,
    y,
    rotation: Math.PI / 2,
    silent: true,
    style: {
      text: "{a|Relative f}{s|λ}{a| + const.}",
      align: "center",
      verticalAlign: "middle",
      rich: {
        a: { fontFamily: FONT, fontWeight: "bold", fontSize: 22, lineHeight: 30, fill: INK },
        s: { fontFamily: FONT, fontWeight: "bold", fontSize: 15, lineHeight: 15, verticalAlign: "bottom", fill: INK },
      },
    },
  };
}

export default function App() {
  const ref = useRef<HTMLDivElement>(null);

  useEffect(() => {
    if (!ref.current) return;
    const chart = echarts.init(ref.current, null, { renderer: "svg" });
    chart.setOption({
      animation: false,
      backgroundColor: "#ffffff",
      grid: [
        { left: 58.3, right: 14.7, top: 3.5, height: 797.5 },
        { left: 58.3, right: 14.7, top: 863.3, height: 396.7 },
      ],
      xAxis: [xAxisDef(0, "bottom"), xAxisDef(0, "top"), xAxisDef(1, "bottom"), xAxisDef(1, "top")],
      yAxis: [
        yAxisDef(0, "left", TOP_MAX, topMajor, 16),
        yAxisDef(0, "left", TOP_MAX, topMinor, 8),
        yAxisDef(0, "right", TOP_MAX, topMajor, 16),
        yAxisDef(0, "right", TOP_MAX, topMinor, 8),
        yAxisDef(1, "left", BOT_MAX, botMajor, 14),
        yAxisDef(1, "left", BOT_MAX, botMinor, 8),
        yAxisDef(1, "right", BOT_MAX, botMajor, 14),
        yAxisDef(1, "right", BOT_MAX, botMinor, 8),
      ],
      series: [
        spectrum(specM4, 0, 0),
        spectrum(specM2, 0, 0),
        spectrum(specP16, 0, 0),
        spectrum(specP19, 0, 0),
        spectrum(specP23, 0, 0),
        spectrum(specP253, 0, 0),
        fitCurve(fitM4, 0, 0),
        fitCurve(fitM2, 0, 0),
        fitCurve(fitP16, 0, 0),
        fitCurve(fitP19, 0, 0),
        fitCurve(fitP23, 0, 0),
        spectrum(specP4, 2, 4),
        spectrum(specP35, 2, 4),
        spectrum(specP64, 2, 4),
        fitCurve(fitP4, 2, 4),
        fitCurve(fitP35, 2, 4),
      ],
      graphic: [
        label("10qts", 675, 31.5, "right", 17),
        label("-4", 575, 166),
        label("-2", 569, 274),
        label("+16", 559, 358),
        label("+19", 559, 473),
        label("+23", 449, 575),
        label("+253", 632, 712),
        label("10tqv", 677, 884, "right", 17),
        label("+4", 595, 983),
        label("+35", 591, 1079),
        label("+64", 412, 1172),
        label("Rest Wavelength [Angstrom]", 376, 842, "center", 20),
        label("Rest Wavelength [Angstrom]", 376, 1303, "center", 20),
        yTitle(390),
        yTitle(1051),
      ],
    });
    return () => chart.dispose();
  }, []);

  return (
    <div
      ref={ref}
      style={{ position: "absolute", left: 0, top: 0, width: 704, height: 1320, background: "#fff" }}
    />
  );
}
